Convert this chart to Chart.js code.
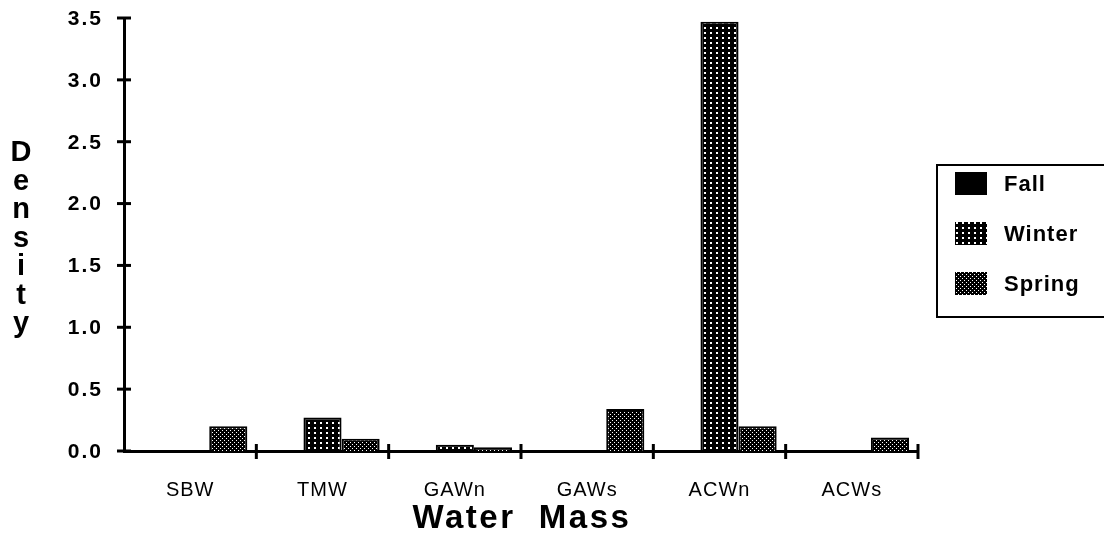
<!DOCTYPE html>
<html>
<head>
<meta charset="UTF-8">
<title>Density by Water Mass</title>
<style>
  body { margin: 0; background: #fff; }
  .chart-box { position: relative; width: 1104px; height: 537px; }
</style>
</head>
<body>
<div class="chart-box">
  <canvas id="densityChart"></canvas>
</div>
<script src="https://cdn.jsdelivr.net/npm/chart.js"></script>
<script>
// Data
const waterMasses = ['SBW', 'TMW', 'GAWn', 'GAWs', 'ACWn', 'ACWs'];
const fallDensity = [0, 0, 0, 0, 0, 0];
const winterDensity = [0, 0.27, 0.05, 0, 3.47, 0];
const springDensity = [0.20, 0.10, 0.03, 0.34, 0.20, 0.11];
const seasonNames = ['Fall', 'Winter', 'Spring'];
const yTicks = [0, 0.5, 1.0, 1.5, 2.0, 2.5, 3.0, 3.5];

const FONT = '"Liberation Sans", Arial, Helvetica, sans-serif';

// Black fill with white dots, like the old hatch patterns
function dotPattern(w, h, dots) {
  const c = document.createElement('canvas');
  c.width = w; c.height = h;
  const g = c.getContext('2d');
  g.fillStyle = '#000';
  g.fillRect(0, 0, w, h);
  g.fillStyle = '#fff';
  dots.forEach(d => g.fillRect(d[0], d[1], d[2], d[3]));
  return document.createElement('canvas').getContext('2d').createPattern(c, 'repeat');
}

const fallFill = '#000';
const winterFill = dotPattern(6, 5, [[2, 2, 2, 2]]);
const springFill = dotPattern(4, 4, [[0, 0, 1, 1], [2, 2, 1, 1]]);

// Labels with wide spacing, ticks crossing the axes, titles and legend
const decorPlugin = {
  id: 'decor',
  afterDraw(chart) {
    const ctx = chart.ctx;
    const area = chart.chartArea;
    const x = chart.scales.x;
    const y = chart.scales.y;
    ctx.save();
    ctx.strokeStyle = '#000';
    ctx.fillStyle = '#000';
    ctx.lineWidth = 3;

    // y ticks + labels
    ctx.font = 'bold 21px ' + FONT;
    ctx.letterSpacing = '2px';
    ctx.textAlign = 'right';
    ctx.textBaseline = 'middle';
    yTicks.forEach(v => {
      const py = y.getPixelForValue(v);
      ctx.beginPath();
      ctx.moveTo(area.left - 7, py);
      ctx.lineTo(area.left + 7, py);
      ctx.stroke();
      ctx.fillText(v.toFixed(1), area.left - 21, py + 1);
    });

    // x category boundaries + labels
    ctx.font = '20px ' + FONT;
    ctx.letterSpacing = '1px';
    ctx.textAlign = 'center';
    for (let i = 0; i < waterMasses.length; i++) {
      const cx = x.getPixelForValue(i);
      ctx.fillText(waterMasses[i], cx, area.bottom + 39);
      const px = i < waterMasses.length - 1
        ? (cx + x.getPixelForValue(i + 1)) / 2
        : area.right;
      ctx.beginPath();
      ctx.moveTo(px, area.bottom - 7);
      ctx.lineTo(px, area.bottom + 8);
      ctx.stroke();
    }

    // y title, letters stacked
    ctx.letterSpacing = '0px';
    ctx.font = 'bold 29px ' + FONT;
    const word = 'Density';
    for (let i = 0; i < word.length; i++) {
      ctx.fillText(word[i], 21, 153 + i * 28.5);
    }

    // x title
    ctx.font = 'bold 33px ' + FONT;
    ctx.letterSpacing = '2.5px';
    ctx.fillText('Water  Mass', 522, 519);

    // legend box
    ctx.lineWidth = 2;
    ctx.strokeRect(937, 165, 200, 152);
    const fills = [fallFill, winterFill, springFill];
    const rows = [183, 233, 283];
    ctx.font = 'bold 22px ' + FONT;
    ctx.letterSpacing = '1px';
    ctx.textAlign = 'left';
    seasonNames.forEach((name, i) => {
      ctx.fillStyle = fills[i];
      ctx.fillRect(955, rows[i] - 11, 32, 23);
      ctx.fillStyle = '#000';
      ctx.fillText(name, 1004, rows[i] + 2);
    });
    ctx.restore();
  }
};

const ctx = document.getElementById('densityChart').getContext('2d');
new Chart(ctx, {
  type: 'bar',
  data: {
    labels: waterMasses,
    datasets: [
      { label: seasonNames[0], data: fallDensity, backgroundColor: fallFill },
      { label: seasonNames[1], data: winterDensity, backgroundColor: winterFill },
      { label: seasonNames[2], data: springDensity, backgroundColor: springFill }
    ]
  },
  options: {
    responsive: true,
    maintainAspectRatio: false,
    animation: false,
    layout: { padding: { left: 0, top: 18, right: 186, bottom: 0 } },
    datasets: {
      bar: {
        categoryPercentage: 0.864,
        barPercentage: 1,
        borderColor: '#000',
        borderWidth: 2
      }
    },
    plugins: {
      legend: { display: false },
      tooltip: { enabled: false }
    },
    scales: {
      x: {
        grid: { display: false, drawTicks: false },
        border: { display: true, color: '#000', width: 3 },
        ticks: { display: false },
        afterFit(scale) { scale.height = 86; }
      },
      y: {
        min: 0,
        max: 3.5,
        grid: { display: false, drawTicks: false },
        border: { display: true, color: '#000', width: 3 },
        ticks: { display: false, stepSize: 0.5 },
        afterFit(scale) { scale.width = 124; }
      }
    }
  },
  plugins: [decorPlugin]
});
</script>
</body>
</html>
